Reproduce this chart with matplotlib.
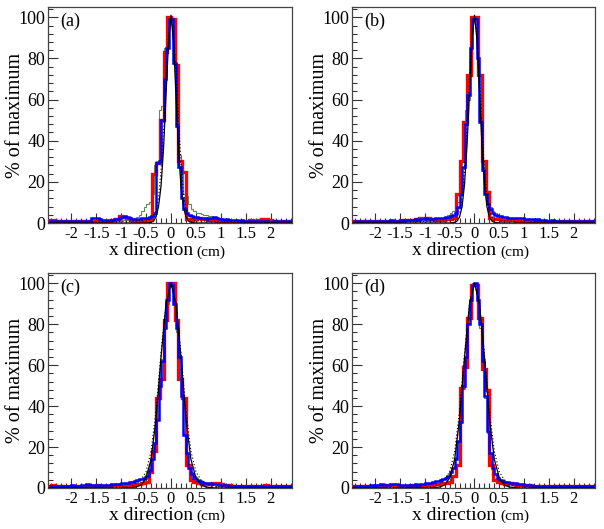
import matplotlib.pyplot as plt
import numpy as np
from matplotlib.ticker import MultipleLocator, FuncFormatter

plt.rcParams['font.family'] = ['Liberation Serif', 'DejaVu Serif']
plt.rcParams['axes.unicode_minus'] = False

# binning of the histograms (cm)
red_x0, red_w = -2.475, 0.075
fine_x0, fine_w = -2.45, 0.05

# ---- panel (a) ----
red_a = [1.5, 1.5, 1.2, 1.0, 1.0, 1.2, 1.0, 0.8, 1.0, 1.0, 0.8, 1.0, 0.6, 1.0, 1.2, 1.0, 1.0, 1.4, 2.0, 3.2, 3.0, 2.4, 1.5, 1.0, 1.2, 1.0, 1.4,
         1.5, 24, 29, 50, 83, 100, 99, 77, 30, 25, 2,
         1.5, 2.0, 2.2, 2.0, 1.8, 1.6, 1.4, 1.2, 1.0, 1.0, 0.8, 1.0, 1.0, 1.2, 1.0, 1.2, 1.4, 1.2, 1.6, 2.0, 1.8, 1.4, 1.0, 1.0, 1.2, 0.8, 1.0, 1.0]
blue_a = [0.8, 1.0, 0.8, 1.0, 1.2, 1.0, 0.8, 1.0, 1.0, 1.2, 1.0, 0.8, 1.0, 1.0, 1.2, 1.0, 1.0,
          2.2, 2.6, 2.4, 2.0, 1.6, 1.4, 1.6, 1.4, 1.6, 1.8, 2.0, 2.6, 3.0, 3.2, 2.8, 2.2, 1.8,
          2.0, 1.8, 2.0, 2.2, 2.4, 2.6, 3.0,
          3.5, 5, 29, 30, 50, 70, 85, 99, 99, 78, 47, 27, 12, 7, 5, 4,
          3.5, 3.0, 2.8, 2.6, 2.4, 2.2, 2.0, 2.2, 2.6, 2.8, 2.4, 2.0, 1.8, 1.6, 1.8, 1.6, 1.4, 1.6, 1.4, 1.2,
          1.4, 1.2, 1.0, 1.2, 1.0, 1.0, 1.2, 1.0, 0.8, 1.0, 1.0, 0.6, 0.4, 0.8, 1.0, 0.8, 1.0, 1.0, 0.8, 1.0, 1.0]
green_a = [0.6, 0.8, 0.6, 0.5, 0.8, 0.6, 0.6, 0.8, 0.5, 0.6, 0.8, 0.6, 0.6, 0.8, 0.6, 0.5, 0.8, 1.0, 0.8, 0.6, 0.8, 1.0, 0.8, 0.8, 1.0, 1.0, 1.2, 1.0, 1.2, 1.4, 1.4,
           1.6, 1.8, 2.0, 2.4, 3, 4, 6, 8, 9, 10, 14, 28, 30, 55, 57, 85, 88, 100, 99, 82, 60, 33, 27, 14, 13, 9, 7, 6, 5, 5, 4.5, 4, 4, 3.5, 3.5, 3, 3, 2.5, 2.5, 2,
           2, 1.8, 1.6, 1.6, 1.4, 1.4, 1.2, 1.2, 1.0, 1.0, 1.0, 0.8, 0.8, 1.0, 0.8, 0.8, 0.6, 0.8, 0.6, 0.6, 0.8, 0.6, 0.5, 0.6, 0.6, 0.5, 0.6]
line_x_a = [-2.45, -0.5, -0.4, -0.35, -0.3, -0.25, -0.2, -0.15, -0.1, -0.05, 0, 0.05, 0.1, 0.15, 0.2, 0.25, 0.3, 0.35, 0.4, 0.5, 2.45]
black_a = [0, 0, 0.3, 1, 3, 8, 18, 36, 62, 88, 101, 88, 62, 36, 18, 8, 3, 1, 0.3, 0, 0]
dots_a = [0, 1, 2, 4, 6, 12, 26, 45, 70, 92, 100, 92, 74, 50, 30, 14, 7, 4, 2, 1, 0]

# ---- panel (b) ----
red_b = [1.2, 1.0, 1.0, 0.8, 1.0, 1.0, 0.8, 1.0, 1.2, 1.0, 1.0, 1.2, 1.0, 1.4, 1.6, 1.4, 1.6, 1.8, 2.2, 2.6, 2.4, 2.0, 1.6, 1.4, 1.6, 1.8, 2.0,
         2.5, 14, 30, 49, 72, 100, 100, 72, 30, 15, 2.5,
         2.0, 1.8, 1.6, 1.6, 1.4, 1.4, 1.2, 1.2, 1.0, 1.2, 1.0, 1.0, 0.8, 1.0, 1.0, 1.2, 1.0, 0.8, 1.0, 1.0, 0.8, 1.0, 1.0, 0.8, 1.0, 1.0, 0.8, 1.0]
blue_b = [1.0, 0.8, 1.0, 1.0, 1.2, 1.0, 0.8, 1.0, 1.2, 1.0, 1.0, 1.2, 1.0, 1.0, 1.2, 1.4, 1.2, 1.0, 1.2, 1.4, 1.2, 1.4, 1.6, 1.4, 1.6, 1.8, 1.6, 1.8, 2.0, 2.2, 2.0, 1.8, 2.0, 2.2, 2.4, 2.2, 2.6, 2.8, 3.0, 3.4, 4.0,
          5, 8, 14, 27, 48, 62, 85, 99, 99, 80, 49, 26, 14, 9, 7, 5,
          4.0, 3.6, 3.2, 3.0, 2.8, 2.6, 2.4, 2.2, 2.4, 2.6, 2.4, 2.2, 2.0, 2.0, 1.8, 1.8, 1.6, 1.8, 1.6, 1.4,
          1.4, 1.2, 1.2, 1.4, 1.2, 1.0, 1.2, 1.0, 1.0, 1.2, 1.0, 1.0, 0.8, 1.0, 1.0, 0.8, 1.0, 1.2, 1.0, 1.0, 0.8]
green_b = [0.6, 0.8, 0.6, 0.8, 0.6, 0.5, 0.6, 0.8, 0.6, 0.6, 0.8, 0.6, 0.8, 0.8, 0.6, 0.8, 1.0, 0.8, 0.8, 1.0, 0.8, 1.0, 1.0, 0.8, 1.0, 1.0, 1.2, 1.0, 1.0, 1.2, 1.0,
           1.2, 1.4, 1.6, 2, 2.2, 2.6, 3, 4, 5, 6, 8, 10, 28, 30, 55, 60, 84, 100, 99, 84, 55, 30, 14, 10, 8, 6, 5, 4, 3.5, 3,
           3, 2.8, 2.6, 2.4, 2.2, 2, 2, 1.8, 1.6, 1.6,
           1.4, 1.4, 1.2, 1.2, 1.2, 1.0, 1.0, 1.0, 0.8, 1.0, 0.8, 0.8, 1.0, 0.8, 0.8, 0.6, 0.8, 0.8, 0.6, 0.8, 0.6, 0.6, 0.8, 0.6, 0.6, 0.5, 0.6]
line_x_b = [-2.45, -0.5, -0.4, -0.35, -0.3, -0.25, -0.2, -0.15, -0.1, -0.05, 0, 0.05, 0.1, 0.15, 0.2, 0.25, 0.3, 0.35, 0.4, 0.5, 2.45]
black_b = [0, 0, 0.3, 1, 3, 8, 19, 38, 64, 89, 101, 89, 64, 38, 19, 8, 3, 1, 0.3, 0, 0]
dots_b = [0, 1, 2, 3, 6, 12, 26, 46, 72, 92, 100, 92, 72, 46, 26, 12, 6, 3, 2, 1, 0]

# ---- panel (c) ----
red_c = [1.0, 1.4, 1.2, 1.0, 0.8, 1.0, 1.0, 0.8, 1.0, 1.2, 1.0, 1.0, 1.2, 1.4, 1.2, 1.0, 1.2, 1.4, 1.6, 1.4, 1.2, 1.4, 1.6, 1.8, 2.0, 2.4, 3.0,
         8, 18, 44, 53, 82, 100, 100, 82, 53, 44, 11, 4, 3, 2.5,
         2.0, 1.8, 2.0, 2.4, 2.2, 1.8, 1.6, 1.4, 1.2, 1.2, 1.0, 1.0, 1.2, 1.0, 0.8, 1.0, 1.2, 1.4, 1.2, 1.0, 1.0, 0.8, 1.0, 1.0, 0.8]
blue_c = [1.0, 0.8, 1.0, 1.2, 1.0, 1.0, 0.8, 1.0, 1.2, 1.4, 1.2, 1.0, 1.2, 1.4, 1.6, 1.8, 1.6, 1.4, 1.6, 1.4, 1.2, 1.4, 1.6, 1.4, 1.6, 1.8, 2.0, 1.8, 2.0, 2.2, 2.4, 2.6, 2.8, 3.0, 3.4, 3.8,
          4.2, 4.5, 5, 6, 9, 14, 22, 33, 50, 62, 78, 92, 100, 99, 90, 78, 64, 45, 26, 17, 10, 7, 5, 4, 3.5, 3,
          2.6, 2.4, 2.2, 2.0, 1.8, 1.8, 1.6, 1.6, 1.4, 1.4, 1.2, 1.2, 1.0, 1.2, 1.0, 1.0, 1.2, 1.0, 0.8, 1.0, 1.0, 0.8, 1.0, 1.0, 1.2, 1.0, 0.8, 1.0, 1.0, 0.8, 1.0, 1.0, 0.8, 1.0, 1.0, 0.8]
green_c = [0.8, 0.8, 1.0, 0.8, 1.0, 0.8, 1.0, 1.0, 0.8, 1.0, 1.2, 1.0, 1.0, 1.2, 1.0, 1.2, 1.4, 1.2, 1.4, 1.2, 1.4, 1.6, 1.4, 1.6, 1.8, 1.6, 1.8, 2.0, 2.2, 2.0, 2.4, 2.6, 2.8, 3.2, 3.6, 4.0,
           4.5, 5, 6, 8, 11, 15, 22, 34, 48, 63, 80, 90, 100, 98, 91, 76, 58, 46, 27, 16, 11, 8, 6, 5, 4, 3.5,
           3.0, 2.6, 2.4, 2.0, 1.8, 1.6, 1.6, 1.4, 1.4, 1.2, 1.2, 1.0, 1.0, 1.0, 0.8, 1.0, 0.8, 0.8, 1.0, 0.8, 0.8, 1.0, 0.8, 0.8, 0.6, 0.8, 0.8, 0.6, 0.8, 0.8, 0.6, 0.8, 0.6, 0.8, 0.8, 0.6]
line_x_c = [-2.45, -0.9, -0.8, -0.7, -0.6, -0.5, -0.4, -0.3, -0.2, -0.1, 0, 0.1, 0.2, 0.3, 0.4, 0.5, 0.6, 0.7, 0.8, 0.9, 2.45]
black_c = [0, 0, 0.2, 0.5, 1.5, 5, 14, 34, 64, 90, 100, 90, 64, 34, 14, 5, 1.5, 0.5, 0.2, 0, 0]
dots_c = [0, 0.5, 1, 2, 4, 8, 18, 38, 66, 90, 100, 90, 66, 38, 18, 8, 4, 2, 1, 0.5, 0]

# ---- panel (d) ----
red_d = [1.0, 1.2, 1.0, 0.8, 1.0, 1.0, 1.2, 1.0, 1.2, 1.4, 1.6, 1.4, 1.2, 1.2, 1.0, 1.2, 1.4, 1.2, 1.0, 1.2, 1.4, 1.6, 1.8, 2.0, 2.4, 2.6, 3.0,
         6, 11, 49, 59, 83, 99, 99, 83, 58, 48, 11, 4, 3, 2.5,
         2.0, 2.2, 1.8, 1.6, 1.4, 1.6, 1.4, 1.2, 1.2, 1.0, 1.0, 1.2, 1.0, 1.0, 0.8, 1.0, 1.0, 1.2, 1.0, 0.8, 1.0, 1.0, 1.2, 1.0, 0.8]
blue_d = [1.0, 1.0, 0.8, 1.0, 1.2, 1.0, 1.2, 1.4, 1.2, 1.4, 1.6, 1.8, 1.6, 1.4, 1.6, 1.8, 2.0, 1.8, 1.6, 1.4, 1.6, 1.4, 1.2, 1.4, 1.6, 1.8, 1.6, 1.8, 2.0, 2.2, 2.4, 2.6, 3.0, 3.2, 3.6, 4.0,
          4.4, 5, 6, 8, 10, 14, 23, 32, 50, 64, 80, 92, 99, 100, 92, 80, 62, 45, 28, 17, 10, 7, 5, 4, 3.5, 3,
          2.8, 2.6, 2.4, 2.2, 2.0, 1.8, 1.8, 1.6, 1.4, 1.4, 1.2, 1.2, 1.0, 1.2, 1.0, 1.0, 1.2, 1.0, 1.0, 0.8, 1.0, 1.0, 1.2, 1.0, 1.0, 0.8, 1.0, 1.0, 0.8, 1.0, 1.0, 1.2, 1.0, 0.8, 1.0, 1.0]
green_d = [0.8, 1.0, 0.8, 0.8, 1.0, 0.8, 1.0, 1.0, 1.2, 1.0, 1.2, 1.0, 1.2, 1.2, 1.0, 1.2, 1.4, 1.2, 1.2, 1.4, 1.2, 1.4, 1.6, 1.4, 1.6, 1.8, 1.6, 2.0, 2.0, 2.2, 2.4, 2.6, 3.0, 3.2, 3.6, 4.2,
           4.5, 5.5, 6, 8, 10, 15, 22, 33, 49, 62, 80, 91, 100, 99, 90, 78, 62, 44, 27, 17, 10, 7, 5, 4, 3.5, 3,
           2.8, 2.6, 2.2, 2.0, 1.8, 1.6, 1.6, 1.4, 1.2, 1.2, 1.2, 1.0, 1.0, 1.0, 0.8, 1.0, 0.8, 0.8, 1.0, 0.8, 0.8, 1.0, 0.8, 0.6, 0.8, 0.8, 0.6, 0.8, 0.8, 0.6, 0.8, 0.6, 0.6, 0.8, 0.6, 0.6]
line_x_d = [-2.45, -0.9, -0.8, -0.7, -0.6, -0.5, -0.4, -0.3, -0.2, -0.1, 0, 0.1, 0.2, 0.3, 0.4, 0.5, 0.6, 0.7, 0.8, 0.9, 2.45]
black_d = [0, 0, 0.2, 0.5, 1.5, 5, 14, 34, 64, 90, 100, 90, 64, 34, 14, 5, 1.5, 0.5, 0.2, 0, 0]
dots_d = [0, 0.5, 1, 2, 4, 8, 18, 38, 66, 90, 100, 90, 66, 38, 18, 8, 4, 2, 1, 0.5, 0]

panels = [
    ('(a)', red_a, blue_a, green_a, line_x_a, black_a, dots_a),
    ('(b)', red_b, blue_b, green_b, line_x_b, black_b, dots_b),
    ('(c)', red_c, blue_c, green_c, line_x_c, black_c, dots_c),
    ('(d)', red_d, blue_d, green_d, line_x_d, black_d, dots_d),
]

W, H = 604, 529
# axes boxes in pixels: left, top, right, bottom
boxes = [(48, 7, 292, 223), (352, 7, 595, 223), (48, 273, 292, 488), (352, 273, 595, 488)]


def stairs(ax, x0, w, vals, **kw):
    vals = np.asarray(vals, dtype=float)
    edges = x0 + w * np.arange(len(vals) + 1)
    ax.stairs(vals, edges, baseline=None, **kw)


fig = plt.figure(figsize=(W / 100, H / 100), dpi=100)

for (tag, red, blue, green, lx, black, dots), (l, t, r, b) in zip(panels, boxes):
    ax = fig.add_axes([l / W, 1 - b / H, (r - l) / W, (b - t) / H])
    stairs(ax, fine_x0, fine_w, green, color='#5e8a5e', lw=0.8, zorder=2)
    stairs(ax, red_x0, red_w, red, color='#ff0000', lw=2.4, zorder=3)
    stairs(ax, fine_x0, fine_w, blue, color='#0000ff', lw=1.8, zorder=4)
    ax.plot(lx, black, color='black', lw=0.9, zorder=5)
    ax.plot(lx, dots, color='black', lw=0.8, ls=(0, (1, 2)), zorder=5)

    ax.set_xlim(-2.47, 2.43)
    ax.set_ylim(0, 105)
    ax.xaxis.set_major_locator(MultipleLocator(0.5))
    ax.xaxis.set_minor_locator(MultipleLocator(0.1))
    ax.yaxis.set_major_locator(MultipleLocator(20))
    ax.yaxis.set_minor_locator(MultipleLocator(4))
    ax.xaxis.set_major_formatter(FuncFormatter(lambda v, p: '%g' % (round(v, 2) + 0.0)))
    ax.tick_params(which='both', direction='in', top=False, right=False, width=0.8, color='#333333')
    ax.tick_params(which='major', length=7)
    ax.tick_params(which='minor', length=3.5)
    ax.tick_params(axis='y', labelsize=13, pad=2)
    ax.tick_params(axis='x', labelsize=12, pad=2)
    for s in ax.spines.values():
        s.set_linewidth(0.9)
        s.set_color('#444444')

    ax.text(0.595, -0.15, 'x direction', transform=ax.transAxes, ha='right', va='baseline', fontsize=14)
    ax.text(0.61, -0.15, '(cm)', transform=ax.transAxes, ha='left', va='baseline', fontsize=11)
    ax.text(-0.135, 0.5, '% of maximum', transform=ax.transAxes, rotation=90, ha='center', va='center', fontsize=14.5)
    ax.text(0.05, 0.972, tag, transform=ax.transAxes, ha='left', va='top', fontsize=13)

fig.savefig('out.png', dpi=100)
